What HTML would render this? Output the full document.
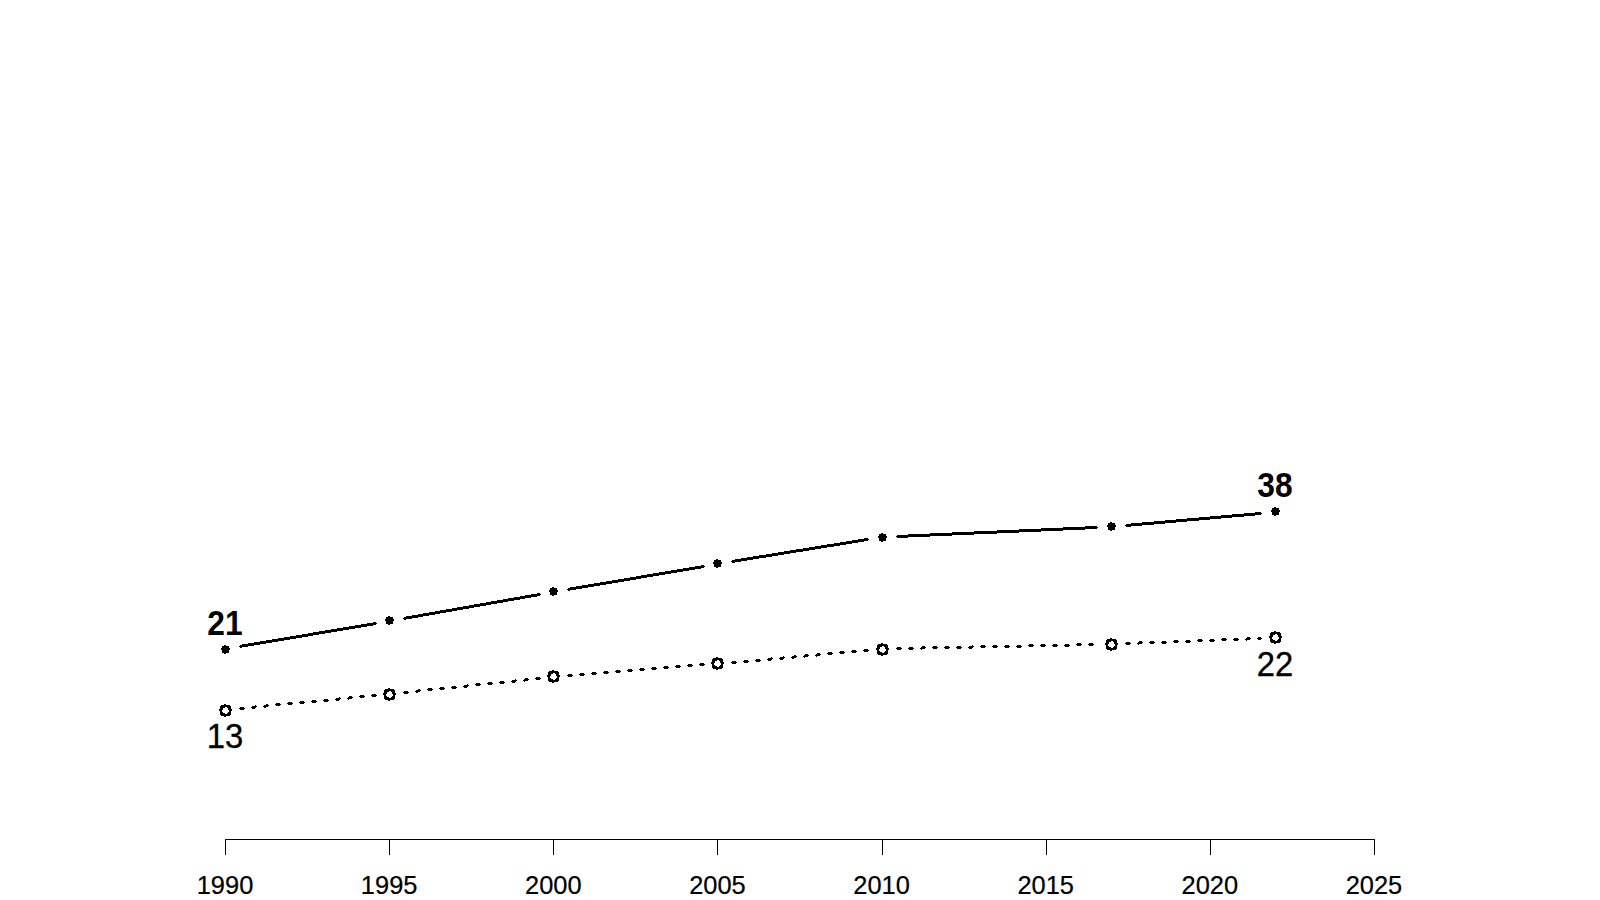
<!DOCTYPE html>
<html><head><meta charset="utf-8"><title>chart</title>
<style>
html,body{margin:0;padding:0;background:#fff;}
body{width:1600px;height:900px;overflow:hidden;}
svg{display:block;}
text{font-family:"Liberation Sans",Arial,sans-serif;fill:#000;}
.ax{font-size:24px;stroke:#000;stroke-width:.2px;}
.lb{font-size:33.6px;}
.r{stroke:#000;stroke-width:.3px;}
.b{font-weight:bold;}
</style></head><body>
<svg width="1600" height="900" viewBox="0 0 1600 900" shape-rendering="crispEdges">
<rect width="1600" height="900" fill="#fff"/>

<g fill="#000" stroke="none">
<!-- solid series: line segments -->
<path d="M239 646h1v1h-1zM240 645h2v3h-2zM242 644h6v3h-6zM248 643h6v3h-6zM254 642h6v3h-6zM260 641h6v3h-6zM266 640h6v3h-6zM272 639h6v3h-6zM278 638h6v3h-6zM284 637h6v3h-6zM290 636h6v3h-6zM296 635h6v3h-6zM302 634h6v3h-6zM308 633h5v3h-5zM313 632h6v3h-6zM319 631h6v3h-6zM325 630h6v3h-6zM331 629h6v3h-6zM337 628h6v3h-6zM343 627h6v3h-6zM349 626h6v3h-6zM355 625h6v3h-6zM361 624h6v3h-6zM367 623h6v3h-6zM373 622h3v3h-3zM376 623h1v1h-1z"/>
<path d="M403 618h1v1h-1zM404 617h2v3h-2zM406 616h6v3h-6zM412 615h6v3h-6zM418 614h5v3h-5zM423 613h6v3h-6zM429 612h6v3h-6zM435 611h5v3h-5zM440 610h6v3h-6zM446 609h6v3h-6zM452 608h5v3h-5zM457 607h6v3h-6zM463 606h6v3h-6zM469 605h5v3h-5zM474 604h6v3h-6zM480 603h6v3h-6zM486 602h5v3h-5zM491 601h6v3h-6zM497 600h6v3h-6zM503 599h5v3h-5zM508 598h6v3h-6zM514 597h6v3h-6zM520 596h5v3h-5zM525 595h6v3h-6zM531 594h6v3h-6zM537 593h3v3h-3zM540 594h1v1h-1z"/>
<path d="M567 589h1v1h-1zM568 588h2v3h-2zM570 587h6v3h-6zM576 586h6v3h-6zM582 585h6v3h-6zM588 584h6v3h-6zM594 583h6v3h-6zM600 582h6v3h-6zM606 581h6v3h-6zM612 580h6v3h-6zM618 579h6v3h-6zM624 578h6v3h-6zM630 577h6v3h-6zM636 576h5v3h-5zM641 575h6v3h-6zM647 574h6v3h-6zM653 573h6v3h-6zM659 572h6v3h-6zM665 571h6v3h-6zM671 570h6v3h-6zM677 569h6v3h-6zM683 568h6v3h-6zM689 567h6v3h-6zM695 566h6v3h-6zM701 565h3v3h-3zM704 566h1v1h-1z"/>
<path d="M731 561h1v1h-1zM732 560h3v3h-3zM735 559h6v3h-6zM741 558h6v3h-6zM747 557h6v3h-6zM753 556h6v3h-6zM759 555h7v3h-7zM766 554h6v3h-6zM772 553h6v3h-6zM778 552h6v3h-6zM784 551h6v3h-6zM790 550h6v3h-6zM796 549h7v3h-7zM803 548h6v3h-6zM809 547h6v3h-6zM815 546h6v3h-6zM821 545h6v3h-6zM827 544h7v3h-7zM834 543h6v3h-6zM840 542h6v3h-6zM846 541h6v3h-6zM852 540h6v3h-6zM858 539h6v3h-6zM864 538h4v3h-4zM868 539h1v1h-1z"/>
<path d="M896 536h1v1h-1zM897 535h11v3h-11zM908 534h22v3h-22zM930 533h22v3h-22zM952 532h22v3h-22zM974 531h23v3h-23zM997 530h22v3h-22zM1019 529h22v3h-22zM1041 528h22v3h-22zM1063 527h22v3h-22zM1085 526h12v3h-12zM1097 527h1v1h-1z"/>
<path d="M1125 525h1v1h-1zM1126 524h5v3h-5zM1131 523h11v3h-11zM1142 522h12v3h-12zM1154 521h11v3h-11zM1165 520h11v3h-11zM1176 519h11v3h-11zM1187 518h12v3h-12zM1199 517h11v3h-11zM1210 516h11v3h-11zM1221 515h11v3h-11zM1232 514h12v3h-12zM1244 513h11v3h-11zM1255 512h6v3h-6zM1261 513h1v1h-1z"/>
<!-- dotted series: line segments -->
<path d="M239 708h1v1h-1zM240 707h4v3h-4zM244 708h1v1h-1zM251 707h1v1h-1zM252 706h3v3h-3zM255 705h1v3h-1zM256 706h1v1h-1zM263 706h1v1h-1zM264 705h2v3h-2zM266 704h2v3h-2zM268 705h1v1h-1zM275 704h1v1h-1zM276 703h4v3h-4zM280 704h1v1h-1zM287 703h1v1h-1zM288 702h4v3h-4zM292 703h1v1h-1zM299 702h1v1h-1zM300 701h4v3h-4zM304 702h1v1h-1zM311 701h1v1h-1zM312 700h4v3h-4zM316 701h1v1h-1zM323 700h1v1h-1zM324 699h4v3h-4zM328 700h1v1h-1zM335 699h1v1h-1zM336 698h3v3h-3zM339 697h1v3h-1zM340 698h1v1h-1zM347 698h1v1h-1zM348 697h1v3h-1zM349 696h3v3h-3zM352 697h1v1h-1zM359 696h1v1h-1zM360 695h4v3h-4zM364 696h1v1h-1zM371 695h1v1h-1zM372 694h4v3h-4zM376 695h1v1h-1z"/>
<path d="M403 692h1v1h-1zM404 691h4v3h-4zM408 692h1v1h-1zM415 691h1v1h-1zM416 690h2v3h-2zM418 689h2v3h-2zM420 690h1v1h-1zM427 689h1v1h-1zM428 688h4v3h-4zM432 689h1v1h-1zM439 688h1v1h-1zM440 687h4v3h-4zM444 688h1v1h-1zM451 687h1v1h-1zM452 686h4v3h-4zM456 687h1v1h-1zM463 686h1v1h-1zM464 685h3v3h-3zM467 684h1v3h-1zM468 685h1v1h-1zM475 684h1v1h-1zM476 683h4v3h-4zM480 684h1v1h-1zM487 683h1v1h-1zM488 682h4v3h-4zM492 683h1v1h-1zM499 682h1v1h-1zM500 681h4v3h-4zM504 682h1v1h-1zM511 681h1v1h-1zM512 680h3v3h-3zM515 679h1v3h-1zM516 680h1v1h-1zM523 680h1v1h-1zM524 679h1v3h-1zM525 678h3v3h-3zM528 679h1v1h-1zM535 678h1v1h-1zM536 677h4v3h-4zM540 678h1v1h-1z"/>
<path d="M567 675h1v1h-1zM568 674h4v3h-4zM572 675h1v1h-1zM579 674h1v1h-1zM580 673h4v3h-4zM584 674h1v1h-1zM591 673h1v1h-1zM592 672h4v3h-4zM596 673h1v1h-1zM603 672h1v1h-1zM604 671h4v3h-4zM608 672h1v1h-1zM615 671h1v1h-1zM616 670h4v3h-4zM620 671h1v1h-1zM627 670h1v1h-1zM628 669h4v3h-4zM632 670h1v1h-1zM639 669h1v1h-1zM640 668h4v3h-4zM644 669h1v1h-1zM651 668h1v1h-1zM652 667h4v3h-4zM656 668h1v1h-1zM663 667h1v1h-1zM664 666h4v3h-4zM668 667h1v1h-1zM675 666h1v1h-1zM676 665h4v3h-4zM680 666h1v1h-1zM687 665h1v1h-1zM688 664h4v3h-4zM692 665h1v1h-1zM699 664h1v1h-1zM700 663h4v3h-4zM704 664h1v1h-1z"/>
<path d="M731 662h1v1h-1zM732 661h4v3h-4zM736 662h1v1h-1zM743 661h1v1h-1zM744 660h4v3h-4zM748 661h1v1h-1zM755 660h1v1h-1zM756 659h4v3h-4zM760 660h1v1h-1zM767 659h1v1h-1zM768 658h3v3h-3zM771 657h1v3h-1zM772 658h1v1h-1zM779 658h1v1h-1zM780 657h3v3h-3zM783 656h1v3h-1zM784 657h1v1h-1zM791 657h1v1h-1zM792 656h2v3h-2zM794 655h2v3h-2zM796 656h1v1h-1zM803 656h1v1h-1zM804 655h1v3h-1zM805 654h3v3h-3zM808 655h1v1h-1zM815 655h1v1h-1zM816 654h1v3h-1zM817 653h3v3h-3zM820 654h1v1h-1zM827 653h1v1h-1zM828 652h4v3h-4zM832 653h1v1h-1zM839 652h1v1h-1zM840 651h4v3h-4zM844 652h1v1h-1zM851 651h1v1h-1zM852 650h4v3h-4zM856 651h1v1h-1zM863 650h1v1h-1zM864 649h4v3h-4zM868 650h1v1h-1z"/>
<path d="M896 648h1v1h-1zM897 647h4v3h-4zM901 648h1v1h-1zM908 648h1v1h-1zM909 647h4v3h-4zM913 648h1v1h-1zM920 648h1v1h-1zM921 647h1v3h-1zM922 646h3v3h-3zM925 647h1v1h-1zM932 647h1v1h-1zM933 646h4v3h-4zM937 647h1v1h-1zM944 647h1v1h-1zM945 646h4v3h-4zM949 647h1v1h-1zM956 647h1v1h-1zM957 646h4v3h-4zM961 647h1v1h-1zM968 647h1v1h-1zM969 646h3v3h-3zM972 645h1v3h-1zM973 646h1v1h-1zM980 646h1v1h-1zM981 645h4v3h-4zM985 646h1v1h-1zM992 646h1v1h-1zM993 645h4v3h-4zM997 646h1v1h-1zM1004 646h1v1h-1zM1005 645h4v3h-4zM1009 646h1v1h-1zM1016 646h1v1h-1zM1017 645h4v3h-4zM1021 646h1v1h-1zM1028 645h1v1h-1zM1029 644h4v3h-4zM1033 645h1v1h-1zM1040 645h1v1h-1zM1041 644h4v3h-4zM1045 645h1v1h-1zM1052 645h1v1h-1zM1053 644h4v3h-4zM1057 645h1v1h-1zM1064 645h1v1h-1zM1065 644h4v3h-4zM1069 645h1v1h-1zM1076 644h1v1h-1zM1077 643h4v3h-4zM1081 644h1v1h-1zM1088 644h1v1h-1zM1089 643h4v3h-4zM1093 644h1v1h-1z"/>
<path d="M1125 643h1v1h-1zM1126 642h4v3h-4zM1130 643h1v1h-1zM1137 643h1v1h-1zM1138 642h1v3h-1zM1139 641h3v3h-3zM1142 642h1v1h-1zM1149 642h1v1h-1zM1150 641h4v3h-4zM1154 642h1v1h-1zM1161 642h1v1h-1zM1162 641h4v3h-4zM1166 642h1v1h-1zM1173 641h1v1h-1zM1174 640h4v3h-4zM1178 641h1v1h-1zM1185 641h1v1h-1zM1186 640h4v3h-4zM1190 641h1v1h-1zM1197 640h1v1h-1zM1198 639h4v3h-4zM1202 640h1v1h-1zM1209 640h1v1h-1zM1210 639h4v3h-4zM1214 640h1v1h-1zM1221 639h1v1h-1zM1222 638h4v3h-4zM1226 639h1v1h-1zM1233 639h1v1h-1zM1234 638h4v3h-4zM1238 639h1v1h-1zM1245 639h1v1h-1zM1246 638h1v3h-1zM1247 637h3v3h-3zM1250 638h1v1h-1zM1257 638h1v1h-1zM1258 637h3v3h-3zM1261 638h1v1h-1z"/>
<!-- solid series: points -->
<path d="M222 646h7v7h-7zM224 645h2v1h-2zM224 653h2v1h-2zM221 648h1v2h-1zM229 648h1v2h-1z"/>
<path d="M386 617h7v7h-7zM388 616h2v1h-2zM388 624h2v1h-2zM385 619h1v2h-1zM393 619h1v2h-1z"/>
<path d="M550 588h7v7h-7zM552 587h2v1h-2zM552 595h2v1h-2zM549 590h1v2h-1zM557 590h1v2h-1z"/>
<path d="M714 560h7v7h-7zM716 559h2v1h-2zM716 567h2v1h-2zM713 562h1v2h-1zM721 562h1v2h-1z"/>
<path d="M879 534h7v7h-7zM881 533h2v1h-2zM881 541h2v1h-2zM878 536h1v2h-1zM886 536h1v2h-1z"/>
<path d="M1108 523h7v7h-7zM1110 522h2v1h-2zM1110 530h2v1h-2zM1107 525h1v2h-1zM1115 525h1v2h-1z"/>
<path d="M1272 508h7v7h-7zM1274 507h2v1h-2zM1274 515h2v1h-2zM1271 510h1v2h-1zM1279 510h1v2h-1z"/>
<!-- dotted series: open points -->
<path d="M224 704h2v1h-2zM221 705h9v1h-9zM220 706h11v1h-11zM220 707h5v1h-5zM227 707h4v1h-4zM220 708h3v1h-3zM228 708h3v1h-3zM219 709h4v1h-4zM228 709h4v1h-4zM219 710h3v1h-3zM229 710h3v1h-3zM220 711h2v1h-2zM229 711h2v1h-2zM220 712h3v1h-3zM228 712h3v1h-3zM220 713h5v1h-5zM227 713h4v1h-4zM220 714h11v1h-11zM221 715h9v1h-9zM224 716h2v1h-2z"/>
<path d="M388 688h2v1h-2zM385 689h9v1h-9zM384 690h11v1h-11zM384 691h5v1h-5zM391 691h4v1h-4zM384 692h3v1h-3zM392 692h3v1h-3zM383 693h4v1h-4zM392 693h4v1h-4zM383 694h3v1h-3zM393 694h3v1h-3zM384 695h2v1h-2zM393 695h2v1h-2zM384 696h3v1h-3zM392 696h3v1h-3zM384 697h5v1h-5zM391 697h4v1h-4zM384 698h11v1h-11zM385 699h9v1h-9zM388 700h2v1h-2z"/>
<path d="M552 670h2v1h-2zM549 671h9v1h-9zM548 672h11v1h-11zM548 673h5v1h-5zM555 673h4v1h-4zM548 674h3v1h-3zM556 674h3v1h-3zM547 675h4v1h-4zM556 675h4v1h-4zM547 676h3v1h-3zM557 676h3v1h-3zM548 677h2v1h-2zM557 677h2v1h-2zM548 678h3v1h-3zM556 678h3v1h-3zM548 679h5v1h-5zM555 679h4v1h-4zM548 680h11v1h-11zM549 681h9v1h-9zM552 682h2v1h-2z"/>
<path d="M716 657h2v1h-2zM713 658h9v1h-9zM712 659h11v1h-11zM712 660h5v1h-5zM719 660h4v1h-4zM712 661h3v1h-3zM720 661h3v1h-3zM711 662h4v1h-4zM720 662h4v1h-4zM711 663h3v1h-3zM721 663h3v1h-3zM712 664h2v1h-2zM721 664h2v1h-2zM712 665h3v1h-3zM720 665h3v1h-3zM712 666h5v1h-5zM719 666h4v1h-4zM712 667h11v1h-11zM713 668h9v1h-9zM716 669h2v1h-2z"/>
<path d="M881 643h2v1h-2zM878 644h9v1h-9zM877 645h11v1h-11zM877 646h5v1h-5zM884 646h4v1h-4zM877 647h3v1h-3zM885 647h3v1h-3zM876 648h4v1h-4zM885 648h4v1h-4zM876 649h3v1h-3zM886 649h3v1h-3zM877 650h2v1h-2zM886 650h2v1h-2zM877 651h3v1h-3zM885 651h3v1h-3zM877 652h5v1h-5zM884 652h4v1h-4zM877 653h11v1h-11zM878 654h9v1h-9zM881 655h2v1h-2z"/>
<path d="M1110 638h2v1h-2zM1107 639h9v1h-9zM1106 640h11v1h-11zM1106 641h5v1h-5zM1113 641h4v1h-4zM1106 642h3v1h-3zM1114 642h3v1h-3zM1105 643h4v1h-4zM1114 643h4v1h-4zM1105 644h3v1h-3zM1115 644h3v1h-3zM1106 645h2v1h-2zM1115 645h2v1h-2zM1106 646h3v1h-3zM1114 646h3v1h-3zM1106 647h5v1h-5zM1113 647h4v1h-4zM1106 648h11v1h-11zM1107 649h9v1h-9zM1110 650h2v1h-2z"/>
<path d="M1274 631h2v1h-2zM1271 632h9v1h-9zM1270 633h11v1h-11zM1270 634h5v1h-5zM1277 634h4v1h-4zM1270 635h3v1h-3zM1278 635h3v1h-3zM1269 636h4v1h-4zM1278 636h4v1h-4zM1269 637h3v1h-3zM1279 637h3v1h-3zM1270 638h2v1h-2zM1279 638h2v1h-2zM1270 639h3v1h-3zM1278 639h3v1h-3zM1270 640h5v1h-5zM1277 640h4v1h-4zM1270 641h11v1h-11zM1271 642h9v1h-9zM1274 643h2v1h-2z"/>
</g>
<text class="lb b" text-anchor="middle" transform="translate(225.00 635.00) scale(0.945 1.043)">21</text>
<text class="lb b" text-anchor="middle" transform="translate(1275.00 497.00) scale(0.945 1.043)">38</text>
<text class="lb r" text-anchor="middle" transform="translate(225.00 748.00) scale(0.977 1.043)">13</text>
<text class="lb r" text-anchor="middle" transform="translate(1275.00 676.00) scale(0.977 1.043)">22</text>
<g stroke="#000" stroke-width="1" fill="none">
<line x1="225.0" y1="839.5" x2="1375.0" y2="839.5"/>
<line x1="225.5" y1="839" x2="225.5" y2="855"/>
<line x1="389.5" y1="839" x2="389.5" y2="855"/>
<line x1="553.5" y1="839" x2="553.5" y2="855"/>
<line x1="717.5" y1="839" x2="717.5" y2="855"/>
<line x1="882.5" y1="839" x2="882.5" y2="855"/>
<line x1="1046.5" y1="839" x2="1046.5" y2="855"/>
<line x1="1210.5" y1="839" x2="1210.5" y2="855"/>
<line x1="1374.5" y1="839" x2="1374.5" y2="855"/>
</g>
<text class="ax" text-anchor="middle" transform="translate(225.00 893.70) scale(1.06 1.043)">1990</text>
<text class="ax" text-anchor="middle" transform="translate(389.14 893.70) scale(1.06 1.043)">1995</text>
<text class="ax" text-anchor="middle" transform="translate(553.28 893.70) scale(1.06 1.043)">2000</text>
<text class="ax" text-anchor="middle" transform="translate(717.42 893.70) scale(1.06 1.043)">2005</text>
<text class="ax" text-anchor="middle" transform="translate(881.56 893.70) scale(1.06 1.043)">2010</text>
<text class="ax" text-anchor="middle" transform="translate(1045.70 893.70) scale(1.06 1.043)">2015</text>
<text class="ax" text-anchor="middle" transform="translate(1209.84 893.70) scale(1.06 1.043)">2020</text>
<text class="ax" text-anchor="middle" transform="translate(1373.98 893.70) scale(1.06 1.043)">2025</text>
</svg></body></html>
